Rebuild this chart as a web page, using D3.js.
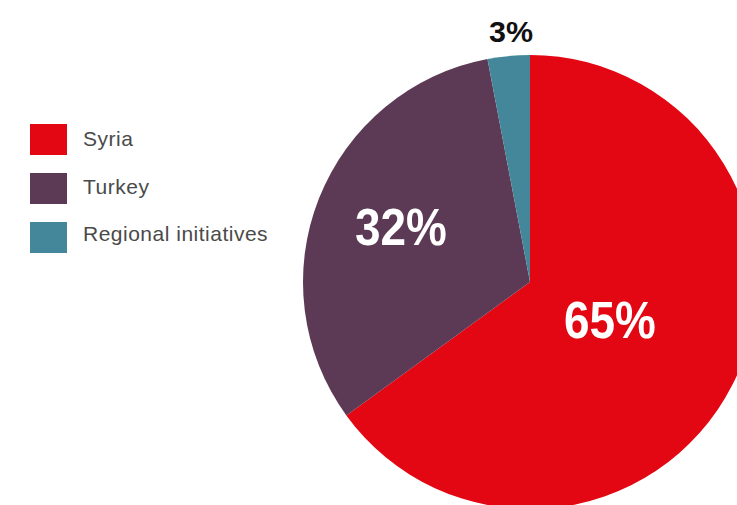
<!DOCTYPE html>
<html>
<head>
<meta charset="utf-8">
<script src="https://cdn.jsdelivr.net/npm/d3@7"></script>
<style>
  html, body { margin: 0; padding: 0; background: #ffffff; overflow: hidden; }
  svg { display: block; }
</style>
</head>
<body>
<svg id="chart" width="737" height="505"></svg>
<script>
// Share of funding by destination
const categories = ["Syria", "Turkey", "Regional initiatives"];
const shares = [65, 32, 3];
const labels = ["65%", "32%", "3%"];
const colors = ["#e30613", "#5c3a55", "#45879a"];

const width = 737, height = 505;
const svg = d3.select("#chart");

const cx = 530, cy = 282, radius = 227;

const pie = d3.pie().sort(null).value(d => d.value);
const arcs = pie(categories.map((c, i) => ({ name: c, value: shares[i], label: labels[i], color: colors[i] })));

const arc = d3.arc().innerRadius(0).outerRadius(radius);

const g = svg.append("g").attr("transform", `translate(${cx},${cy})`);

g.selectAll("path.slice")
  .data(arcs)
  .join("path")
  .attr("class", "slice")
  .attr("d", arc)
  .attr("fill", d => d.data.color);

// Value labels: large ones inside the slice, the small one above the rim.
// Glyphs are squeezed horizontally to get a condensed bold look.
const labelFont = "'Liberation Sans', Arial, sans-serif";
const labelPos = d => {
  if (d.data.value < 10) return [-19, -radius - 13];
  return d.data.value > 50 ? [80, 56] : [-129, -37];
};

g.selectAll("text.val")
  .data(arcs)
  .join("text")
  .attr("class", "val")
  .attr("text-anchor", "middle")
  .attr("font-family", labelFont)
  .attr("font-weight", "bold")
  .attr("font-size", d => d.data.value < 10 ? 29 : 51)
  .attr("fill", d => d.data.value < 10 ? "#111111" : "#ffffff")
  .attr("transform", d => {
    const [x, y] = labelPos(d);
    const sx = d.data.value < 10 ? 1.05 : 0.9;
    return `translate(${x},${y}) scale(${sx},1)`;
  })
  .text(d => d.data.label);

// Legend
const legend = svg.append("g").attr("transform", "translate(30,124)");
const item = legend.selectAll("g")
  .data(categories)
  .join("g")
  .attr("transform", (d, i) => `translate(0,${i * 49})`);

item.append("rect")
  .attr("width", 37)
  .attr("height", 31)
  .attr("fill", (d, i) => colors[i]);

item.append("text")
  .attr("x", 53)
  .attr("y", (d, i) => 22 - i * 1.5)
  .attr("font-family", "'Liberation Sans', Arial, sans-serif")
  .attr("font-size", 21)
  .attr("letter-spacing", 0.5)
  .attr("fill", "#4a4a4a")
  .text(d => d);
</script>
</body>
</html>
